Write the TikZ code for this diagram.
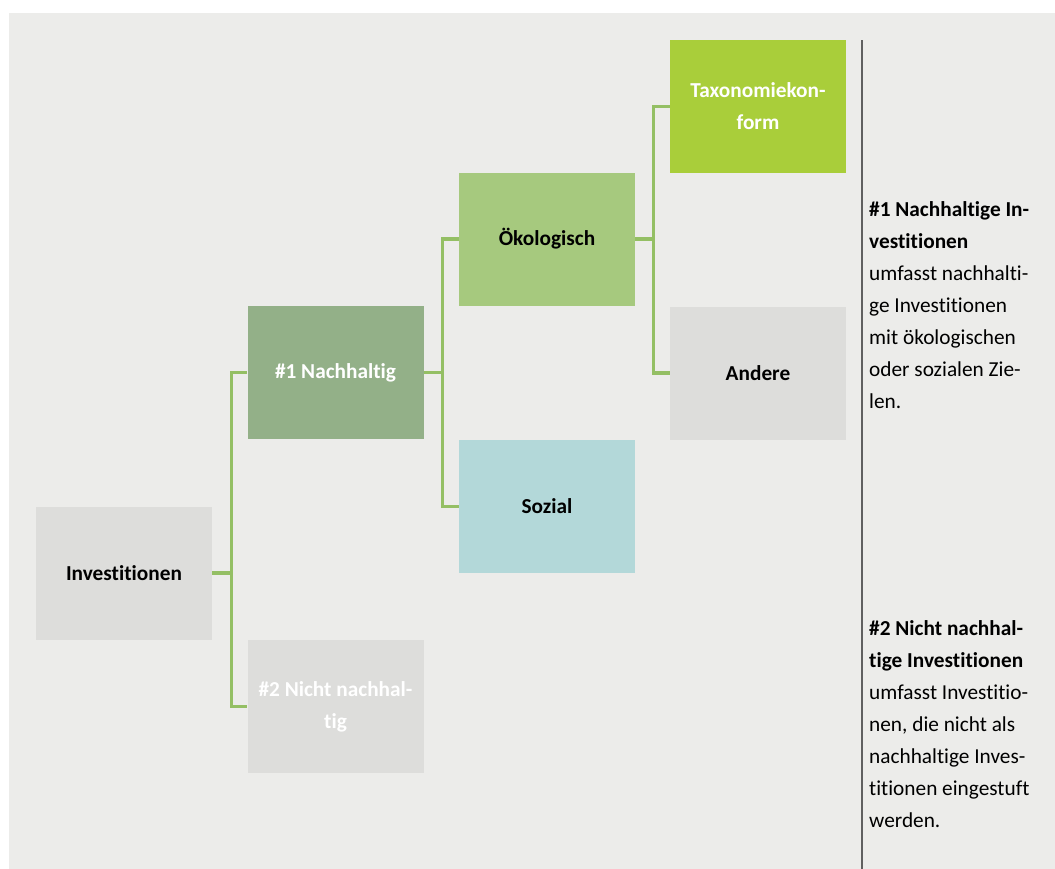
\documentclass[tikz,border=0pt]{standalone}
\usepackage{fontspec}
\setmainfont{Carlito}[Ligatures={NoCommon,NoRequired,NoContextual}]
\definecolor{bgc}{HTML}{ECECEA}
\definecolor{greyc}{HTML}{DDDDDB}
\definecolor{nachc}{HTML}{93B088}
\definecolor{oekoc}{HTML}{A6C97E}
\definecolor{sozc}{HTML}{B3D8D9}
\definecolor{taxoc}{HTML}{A9CE3A}
\definecolor{connc}{HTML}{94BF64}
\definecolor{vlinec}{HTML}{606060}
\tikzset{
  box/.style={rectangle, minimum width=176pt, minimum height=133pt, inner sep=0pt,
    align=center, font=\fontsize{21.3}{32}\selectfont\bfseries},
  conn/.style={draw=connc, line width=3.2pt},
  sidetext/.style={anchor=north west, inner sep=0pt, align=left,
    font=\fontsize{21.3}{32}\selectfont, text=black}
}
\begin{document}
\begin{tikzpicture}[x=1pt,y=-1pt]
\useasboundingbox (0,0) rectangle (1055,868);
\fill[bgc] (9,13) rectangle (1060,875);

\node[box, fill=greyc, text=black] (inv) at (124,573) {Investitionen};
\node[box, fill=nachc, text=white] (n1) at (335.5,372.5) {\#1 Nachhaltig};
\node[box, fill=greyc, text=white] (n2) at (335.5,706.5) {\#2 Nicht nachhal-\\tig};
\node[box, fill=oekoc, text=black] (oeko) at (547,239) {Ökologisch};
\node[box, fill=sozc, text=black] (soz) at (547,506.5) {Sozial};
\node[box, fill=taxoc, text=white] (taxo) at (758,106.5) {Taxonomiekon-\\form};
\node[box, fill=greyc, text=black] (and) at (758,373) {Andere};

\draw[conn] (inv.east) -- ++(19.5,0) |- (n1.west);
\draw[conn] (inv.east) -- ++(19.5,0) |- (n2.west);
\draw[conn] (n1.east) -- ++(18.5,0) |- (oeko.west);
\draw[conn] (n1.east) -- ++(18.5,0) |- (soz.west);
\draw[conn] (oeko.east) -- ++(18.5,0) |- (taxo.west);
\draw[conn] (oeko.east) -- ++(18.5,0) |- (and.west);

\coordinate (vtop) at (862,40);
\coordinate (vbot) at (862,875);
\draw[vlinec, line width=2pt] (vtop) -- (vbot);

\node[sidetext] (t1) at (869,193.6) {\strut\textbf{\#1 Nachhaltige In-}\\\textbf{vestitionen}\\umfasst nachhalti-\\ge Investitionen\\mit ökologischen\\oder sozialen Zie-\\len.};
\node[sidetext] (t2) at (869,612.6) {\strut\textbf{\#2 Nicht nachhal-}\\\textbf{tige Investitionen}\\umfasst Investitio-\\nen, die nicht als\\nachhaltige Inves-\\titionen eingestuft\\werden.};
\end{tikzpicture}
\end{document}
